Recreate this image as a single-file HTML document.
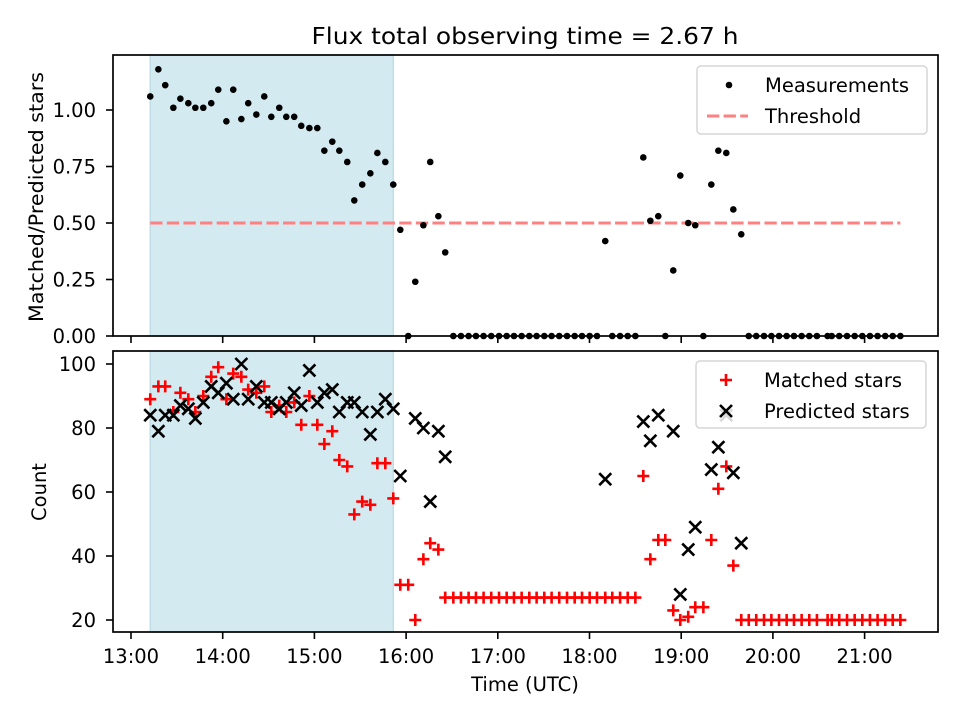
<!DOCTYPE html>
<html><head><meta charset="utf-8"><style>
body{margin:0;background:#fff}
svg{display:block;font-family:"DejaVu Sans","Liberation Sans",sans-serif}
</style></head><body>
<svg id="chart" width="960" height="720">
<rect width="960" height="720" fill="#fff"/>
<text x="525" y="44" font-size="23" text-anchor="middle" textLength="427" lengthAdjust="spacingAndGlyphs">Flux total observing time = 2.67 h</text>
<g id="topPanel"></g>
<g id="botPanel"></g>
<text x="525" y="691" font-size="19.5" text-anchor="middle">Time (UTC)</text>
<text transform="translate(43,197) rotate(-90)" font-size="19.5" text-anchor="middle" textLength="250" lengthAdjust="spacingAndGlyphs">Matched/Predicted stars</text>
<text transform="translate(46,492) rotate(-90)" font-size="19.5" text-anchor="middle">Count</text>
</svg>
<script>
const times=[12.6,17.9,22.4,27.7,32.3,37.5,42.1,47.3,52.5,57.1,62.4,66.9,72.2,76.7,82.0,87.2,91.8,97.0,101.6,106.8,111.4,116.7,121.9,126.5,131.7,136.3,141.5,146.1,151.3,156.6,161.2,166.4,171.6,176.2,181.4,186.0,191.3,195.8,201.1,205.6,
210.9,215.9,220.9,225.7,230.7,235.7,240.8,245.8,250.6,255.6,260.6,265.4,270.4,275.2,280.2,285.3,290.3,295.1,300.1,304.9,
310.3,314.9,320,325,330,335.2,339.8,345,349.6,354.8,359.4,364.6,369.2,374.5,379.7,384.3,389.5,394.1,399.3,
404.2,409.1,414.2,419,424,429,433.8,438.8,443.8,448.8,455.8,458.5,463.4,468.5,473.5,478.5,483.5,488.5,493.5,498.4,503.4];
const ratio=[1.06,1.18,1.11,1.01,1.05,1.03,1.01,1.01,1.03,1.09,0.95,1.09,0.96,1.03,0.98,1.06,0.97,1.01,0.97,0.97,0.93,0.92,0.92,0.82,0.86,0.82,0.77,0.60,0.67,0.72,0.81,0.77,0.67,0.47,0,0.24,0.49,0.77,0.53,0.37,
0,0,0,0,0,0,0,0,0,0,0,0,0,0,0,0,0,0,0,0,
0.42,0,0,0,0,0.79,0.51,0.53,0,0.29,0.71,0.50,0.49,0,0.67,0.82,0.81,0.56,0.45,
0,0,0,0,0,0,0,0,0,0,0,0,0,0,0,0,0,0,0,0,0];
const matched=[89,93,93,85,91,89,85,90,96,99,89,97,96,92,91,93,85,87,85,88,81,90,81,75,79,70,68,53,57,56,69,69,58,31,31,20,39,44,42,27,
27,27,27,27,27,27,27,27,27,27,27,27,27,27,27,27,27,27,27,27,
27,27,27,27,27,65,39,45,45,23,20,21,24,24,45,61,68,37,20,
20,20,20,20,20,20,20,20,20,20,20,20,20,20,20,20,20,20,20,20,20];
const predicted=[84,79,84,84,87,86,83,88,93,91,94,89,100,89,93,88,88,86,88,91,87,98,88,91,92,85,88,88,85,78,85,89,86,65,null,83,80,57,79,71,
null,null,null,null,null,null,null,null,null,null,null,null,null,null,null,null,null,null,null,null,
64,null,null,null,null,82,76,84,null,79,28,42,49,null,67,74,84,66,44,
null,null,null,null,null,null,null,null,null,null,null,null,null,null,null,null,null,null,null,null,null];
const xTickLabels=["13:00","14:00","15:00","16:00","17:00","18:00","19:00","20:00","21:00"];
const topTicks=[0,0.25,0.5,0.75,1.0];
const botTicks=[20,40,60,80,100];
const shadeRange=[12.6,171.6];
const threshold=0.5;

const NS="http://www.w3.org/2000/svg";
const L=113,R=938;
const X=m=>131+m*91.7/60;
const Yt=v=>336-v*226;
const Yb=v=>620-(v-20)*3.2;
function mk(p,tag,at){const e=document.createElementNS(NS,tag);for(const k in at)e.setAttribute(k,at[k]);p.appendChild(e);return e;}
const topG=document.getElementById('topPanel'),botG=document.getElementById('botPanel');

function panel(g,y0,y1,ticks,Y,fmt,showX){
  let s=mk(g,'rect',{x:X(shadeRange[0]),y:y0,width:X(shadeRange[1])-X(shadeRange[0]),height:y1-y0,fill:'#d4eaf1',stroke:'#bfdee8','stroke-width':1.5});
  
  
  ticks.forEach(t=>{
    const y=Y(t);
    mk(g,'line',{x1:L-7,x2:L,y1:y,y2:y,stroke:'#000','stroke-width':1.6});
    const tx=mk(g,'text',{x:L-17,y:y+7,'font-size':19.5,'text-anchor':'end'});tx.textContent=fmt(t);
    
    
  });
  xTickLabels.forEach((lab,i)=>{
    const x=X(i*60);
    mk(g,'line',{x1:x,x2:x,y1:y1,y2:y1+7,stroke:'#000','stroke-width':1.6});
    if(showX){const tx=mk(g,'text',{x:x,y:y1+31,'font-size':19.5,'text-anchor':'middle'});tx.textContent=lab;
      
      }
  });
}
panel(topG,55,336,topTicks,Yt,v=>v.toFixed(2),false);
panel(botG,351,632,botTicks,Yb,v=>String(v),true);

let th=mk(topG,'line',{x1:X(times[0]),x2:X(times[times.length-1]),y1:Yt(threshold),y2:Yt(threshold),stroke:'#ff8080','stroke-width':3,'stroke-dasharray':'12.3,4.3'});


times.forEach((t,i)=>{
  const c=mk(topG,'circle',{cx:X(t),cy:Yt(ratio[i]),r:3.3,fill:'#000'});
  
  
});
times.forEach((t,i)=>{
  const x=X(t),y=Yb(matched[i]);
  const p=mk(botG,'path',{d:`M${x-6},${y}H${x+6}M${x},${y-6}V${y+6}`,stroke:'#f00','stroke-width':2.6});
  
  
});
times.forEach((t,i)=>{
  if(predicted[i]==null)return;
  const x=X(t),y=Yb(predicted[i]);
  const p=mk(botG,'path',{d:`M${x-6},${y-6}L${x+6},${y+6}M${x-6},${y+6}L${x+6},${y-6}`,stroke:'#000','stroke-width':2.6});
  
  
});
[[topG,55,336],[botG,351,632]].forEach(([g,a,b])=>{
  const f=mk(g,'rect',{x:L,y:a,width:R-L,height:b-a,fill:'none',stroke:'#000','stroke-width':1.7});
  
  
});
function legend(g,x,y,w,h,items){
  const lg=mk(g,'g',{});
  
  
  mk(lg,'rect',{x:x,y:y,width:w,height:h,rx:4,fill:'#fff','fill-opacity':0.85,stroke:'#d6d6d6','stroke-width':1.5});
  items.forEach((it,i)=>{
    const yy=y+19+i*31;
    const mx=x+30;
    if(it.k==='dot')mk(lg,'circle',{cx:mx+2,cy:yy,r:3.3,fill:'#000'});
    if(it.k==='dash')mk(lg,'line',{x1:mx-20,x2:mx+21,y1:yy,y2:yy,stroke:'#ff8080','stroke-width':3,'stroke-dasharray':'12.3,4.3'});
    if(it.k==='plus')mk(lg,'path',{d:`M${mx-6},${yy}H${mx+6}M${mx},${yy-6}V${yy+6}`,stroke:'#f00','stroke-width':2.6});
    if(it.k==='x')mk(lg,'path',{d:`M${mx-6},${yy-6}L${mx+6},${yy+6}M${mx-6},${yy+6}L${mx+6},${yy-6}`,stroke:'#000','stroke-width':2.6});
    const t=mk(lg,'text',{x:x+68,y:yy+7,'font-size':19.5});t.textContent=it.t;
    
    
  });
}
legend(topG,697,66,230,68,[{k:'dot',t:'Measurements'},{k:'dash',t:'Threshold'}]);
legend(botG,696,361,230,67,[{k:'plus',t:'Matched stars'},{k:'x',t:'Predicted stars'}]);
</script>
</body></html>
